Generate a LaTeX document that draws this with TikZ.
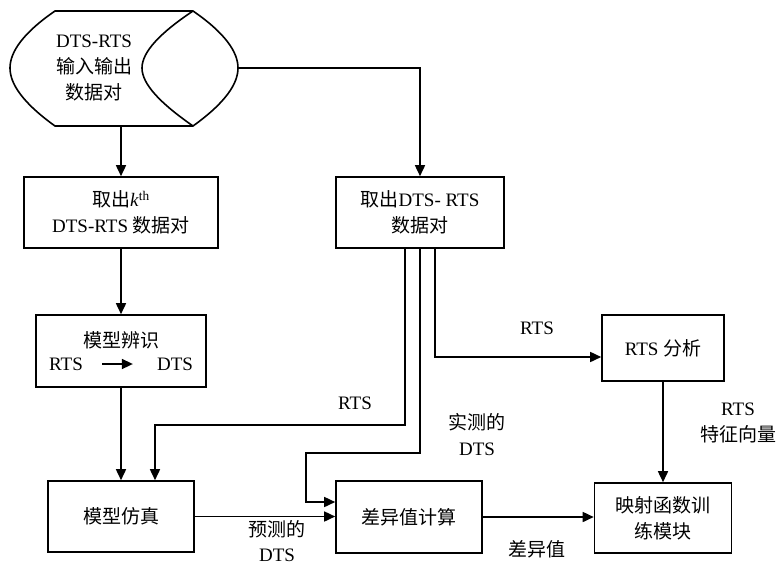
\documentclass[tikz,border=0pt]{standalone}
\usepackage{fontspec}
\setmainfont{Liberation Serif}
\newfontfamily\cjk{Noto Sans CJK SC}
\usetikzlibrary{arrows.meta}
\begin{document}
\begin{tikzpicture}[x=1pt,y=-1pt,
  every node/.style={font=\fontsize{19}{26}\selectfont, align=center, inner sep=0pt},
  box/.style={draw, line width=1.6pt},
  conn/.style={line width=1.6pt, -{Triangle[length=11pt,width=10pt]}},
  wire/.style={line width=1.6pt}]
\useasboundingbox (0,0) rectangle (783,568);
% stored data shape
\draw[wire] (55,11) -- (193,11) .. controls (225,33) and (238,52) .. (238,68) .. controls (238,84) and (225,103) .. (193,126) -- (55,126) .. controls (23,103) and (10,84) .. (10,68) .. controls (10,52) and (23,33) .. (55,11) -- cycle;
\draw[wire] (193,11) .. controls (160,33) and (142,52) .. (142,68) .. controls (142,84) and (160,103) .. (193,126);
\node (src) at (94,68) {DTS-RTS\\{\cjk 输入输出}\\{\cjk 数据对}};
\coordinate (srcbot) at (121,126);
\coordinate (srcright) at (238,68);

\node[box, minimum width=194pt, minimum height=71pt] (kth) at (121,212.5) {{\cjk 取出}\textit{k}\textsuperscript{th}\\DTS-RTS {\cjk 数据对}};
\node[box, minimum width=170pt, minimum height=72pt] (ident) at (121,351) {};
\node (identt) at (121,340) {\cjk 模型辨识};
\node (identr) at (66,364) {RTS};
\node (identd) at (175,364) {DTS};
\node[box, minimum width=146pt, minimum height=71pt] (sim) at (121,516.5) {\cjk 模型仿真};
\node[box, minimum width=168pt, minimum height=71pt] (pair) at (420,212.5) {{\cjk 取出}DTS- RTS\\{\cjk 数据对}};
\node[box, minimum width=146pt, minimum height=72pt] (diff) at (409,517) {\cjk 差异值计算};
\node[box, minimum width=122pt, minimum height=66pt] (rtsan) at (663,348) {RTS {\cjk 分析}};
\node[box, minimum width=137pt, minimum height=70pt] (map) at (663,518) {{\cjk 映射函数训}\\{\cjk 练模块}};

\node (l1) at (355,403) {RTS};
\node (l2) at (477,435) {{\cjk 实测的}\\DTS};
\node[font=\fontsize{19}{25}\selectfont] (l3) at (277,541) {{\cjk 预测的}\\DTS};
\node (l4) at (537,549) {\cjk 差异值};
\node (l5) at (537,328) {RTS};
\node (l6) at (738,423) {RTS\\{\cjk 特征向量}};

\draw[conn] (srcbot) -- (srcbot |- kth.north);
\draw[conn] (srcright) -| (pair.north);
\draw[conn] (kth.south) -- (kth.south |- ident.north);
\draw[conn, shorten <=19pt, shorten >=24pt] (identr.east) -- (identd.west);
\draw[conn] (ident.south) -- (ident.south |- sim.north);
\coordinate (rtsy) at (0,425);
\coordinate (simin) at ([xshift=34pt]sim.north);
\draw[conn] ([xshift=-15pt]pair.south) |- (simin |- rtsy) -- (simin);
\coordinate (dtsbend) at (306,453);
\draw[conn] (pair.south) |- (dtsbend) |- ([yshift=15pt]diff.west);
\draw[conn] ([xshift=15pt]pair.south) |- ([yshift=-9pt]rtsan.west);
\draw[conn] (rtsan.south) -- (rtsan.south |- map.north);
\draw[conn] (sim.east) -- (sim.east -| diff.west);
\draw[conn] (diff.east) -- (diff.east -| map.west);
\end{tikzpicture}
\end{document}
